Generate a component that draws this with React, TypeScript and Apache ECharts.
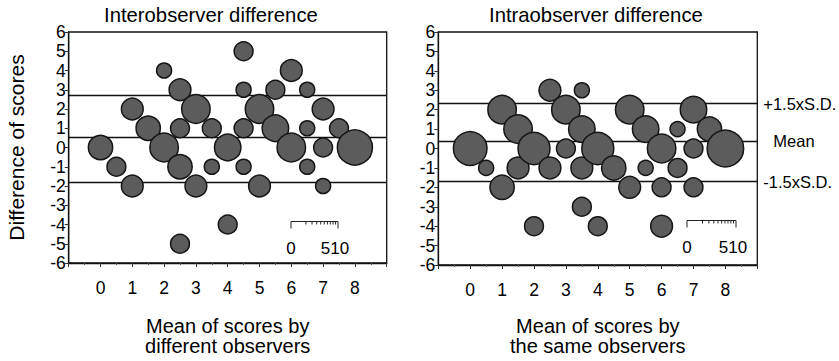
import React, { useEffect, useRef } from "react";
import * as echarts from "echarts";

// Interobserver panel
const interX = [0, 0.5, 1, 1, 1.5, 2, 2, 2.5, 2.5, 2.5, 2.5, 3, 3, 3.5, 3.5, 4, 4, 4.5, 4.5, 4.5, 4.5, 5, 5, 5.5, 5.5, 6, 6, 6.5, 6.5, 6.5, 7, 7, 7, 7.5, 8];
const interY = [0, -1, 2, -2, 1, 4, 0, 3, 1, -1, -5, 2, -2, 1, -1, 0, -4, 5, 3, 1, -1, 2, -2, 3, 1, 4, 0, 3, 1, -1, 2, 0, -2, 1, 0];
const interN = [4, 2, 3, 3, 4, 1, 6, 3, 2, 4, 2, 6, 3, 2, 1, 5, 2, 2, 1, 2, 1, 6, 3, 2, 5, 3, 6, 1, 1, 1, 3, 2, 1, 2, 10];
const interLines = [2.73, 0.53, -1.83];

// Intraobserver panel
const intraX = [0, 0.5, 1, 1, 1.5, 1.5, 2, 2, 2.5, 2.5, 3, 3, 3.5, 3.5, 3.5, 3.5, 4, 4, 4.5, 5, 5, 5.5, 5.5, 6, 6, 6, 6.5, 6.5, 7, 7, 7, 7.5, 8];
const intraY = [0, -1, 2, -2, 1, -1, 0, -4, 3, -1, 2, 0, 3, 1, -1, -3, 0, -4, -1, 2, -2, 1, -1, 0, -2, -4, 1, -1, 2, 0, -2, 1, 0];
const intraN = [9, 1, 6, 4, 6, 3, 8, 2, 3, 3, 6, 2, 1, 5, 3, 2, 8, 2, 4, 6, 3, 5, 1, 6, 2, 3, 1, 2, 5, 2, 2, 4, 11];
const intraLines = [2.31, 0.38, -1.71];
const lineLabels = ["+1.5xS.D.", "Mean", "-1.5xS.D."];

const titles = ["Interobserver difference", "Intraobserver difference"];
const xNames = ["Mean of scores by\ndifferent observers", "Mean of scores by\nthe same observers"];
const yName = "Difference of scores";
const scaleTicks = [0, 1, 2, 3, 4, 5, 6, 7, 8, 9, 10];
const scaleLabels = [0, 5, 10];

const FONT = "'Liberation Sans', Arial, Helvetica, sans-serif";

const bubbleSize = (n: number) => 5.7 + 9.3 * Math.sqrt(n);

function zip(xs: number[], ys: number[], ns: number[]) {
  return xs.map((x, i) => [x, ys[i], ns[i]]);
}

function scaleBar(x0: number, y0: number, w: number) {
  const els: any[] = [];
  const style = { stroke: "#222", lineWidth: 1 };
  els.push({ type: "line", shape: { x1: x0, y1: y0, x2: x0 + w, y2: y0 }, style });
  scaleTicks.forEach((t) => {
    const px = x0 + Math.sqrt(t / 10) * w;
    const len = t === 0 || t === 10 ? 7 : 3;
    els.push({ type: "line", shape: { x1: px, y1: y0, x2: px, y2: y0 + len }, style });
  });
  const txt = (text: string, x: number, align: string) => ({
    type: "text",
    x,
    y: y0 + 27,
    style: { text, fill: "#000", font: `17px ${FONT}`, align, verticalAlign: "middle" },
  });
  // "0" under the start, "5" and "10" set tight together at the end, as printed
  els.push(txt(String(scaleLabels[0]), x0, "center"));
  els.push(txt(String(scaleLabels[1]) + String(scaleLabels[2]), x0 + w - 3, "center"));
  return els;
}

export default function App() {
  const ref = useRef<HTMLDivElement>(null);
  useEffect(() => {
    if (!ref.current) return;
    const chart = echarts.init(ref.current, null, { renderer: "svg" });
    const grids = [
      { left: 68.7, top: 32, width: 318, height: 231.3 },
      { left: 438.3, top: 32, width: 319, height: 233.7 },
    ];
    const xAxis = [0, 1].map((i) => ({
      type: "value",
      gridIndex: i,
      min: -1,
      max: 9,
      interval: 1,
      name: xNames[i],
      nameLocation: "middle",
      nameGap: i === 0 ? 53 : 51,
      nameTextStyle: { fontFamily: FONT, fontSize: 20, color: "#000", lineHeight: 20 },
      axisLine: { show: true, onZero: false, lineStyle: { color: "#111", width: 1.3 } },
      axisTick: { show: true, length: 4, inside: false, lineStyle: { color: "#333" } },
      minorTick: { show: true, splitNumber: 2, length: 2, lineStyle: { color: "#555" } },
      splitLine: { show: false },
      axisLabel: {
        margin: 16,
        fontFamily: FONT,
        fontSize: 17.5,
        color: "#000",
        formatter: (v: number) => (v < 0 || v > 8 ? "" : String(v)),
      },
    }));
    const yAxis = [0, 1].map((i) => ({
      type: "value",
      gridIndex: i,
      min: -6,
      max: 6,
      interval: 1,
      name: i === 0 ? yName : "",
      nameLocation: "middle",
      nameRotate: 90,
      nameGap: 42,
      nameTextStyle: { fontFamily: FONT, fontSize: 21, color: "#000" },
      axisLine: { show: true, onZero: false, lineStyle: { color: "#111", width: 1.3 } },
      axisTick: { show: true, length: 4, inside: false, lineStyle: { color: "#333" } },
      splitLine: { show: false },
      axisLabel: { margin: 3, fontFamily: FONT, fontSize: 17.5, color: "#000" },
    }));
    const bubbleStyle = { color: "#5c5c5c", borderColor: "#151515", borderWidth: 1.5, opacity: 1 };
    const mkLine = (vals: number[], withLabels: boolean) => ({
      silent: true,
      symbol: "none",
      z: 1,
      lineStyle: { color: "#111", width: 1.4, type: "solid" },
      label: { show: false },
      data: vals.map((v, k) => ({
        yAxis: v,
        label: withLabels
          ? {
              show: true,
              position: "end",
              formatter: lineLabels[k],
              distance: k === 1 ? 16 : 6,
              fontFamily: FONT,
              fontSize: 16.5,
              color: "#000",
            }
          : { show: false },
      })),
    });
    chart.setOption({
      animation: false,
      backgroundColor: "#fff",
      title: [
        { text: titles[0], left: 104, top: 5, padding: 0, textStyle: { fontFamily: FONT, fontSize: 20.3, fontWeight: "normal", color: "#000" } },
        { text: titles[1], left: 489, top: 5, padding: 0, textStyle: { fontFamily: FONT, fontSize: 20.3, fontWeight: "normal", color: "#000" } },
      ],
      grid: grids.map((g) => ({ ...g, show: true, borderColor: "#111", borderWidth: 1.3, backgroundColor: "transparent" })),
      xAxis,
      yAxis,
      series: [
        {
          type: "scatter",
          xAxisIndex: 0,
          yAxisIndex: 0,
          z: 3,
          data: zip(interX, interY, interN),
          symbolSize: (d: number[]) => bubbleSize(d[2]),
          itemStyle: bubbleStyle,
          markLine: mkLine(interLines, false),
        },
        {
          type: "scatter",
          xAxisIndex: 1,
          yAxisIndex: 1,
          z: 3,
          data: zip(intraX, intraY, intraN),
          symbolSize: (d: number[]) => bubbleSize(d[2]),
          itemStyle: bubbleStyle,
          markLine: mkLine(intraLines, true),
        },
      ],
      graphic: [...scaleBar(291, 221.5, 47), ...scaleBar(687, 220.5, 49)],
    });
    return () => chart.dispose();
  }, []);
  return (
    <div
      ref={ref}
      style={{ position: "fixed", left: 0, top: 0, width: 839, height: 361, background: "#fff" }}
    />
  );
}
